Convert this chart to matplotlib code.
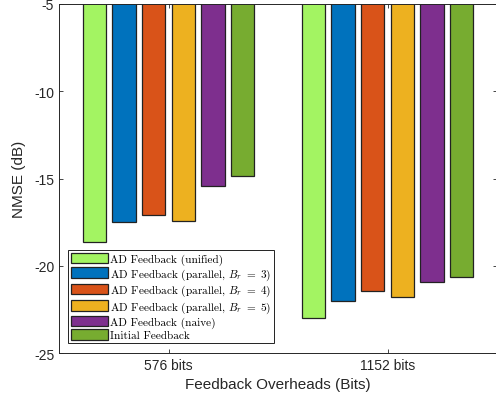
import numpy as np
import matplotlib
matplotlib.use("Agg")
import matplotlib.pyplot as plt

plt.rcParams["font.family"] = ["Liberation Sans", "DejaVu Sans"]
plt.rcParams["mathtext.fontset"] = "cm"

groups = ["576 bits", "1152 bits"]
series = [
    "AD Feedback (unified)",
    r"AD Feedback (parallel, $B_r\ =\ 3$)",
    r"AD Feedback (parallel, $B_r\ =\ 4$)",
    r"AD Feedback (parallel, $B_r\ =\ 5$)",
    "AD Feedback (naive)",
    "Initial Feedback",
]
unified = [-18.65, -23.0]
parallel_3 = [-17.5, -22.0]
parallel_4 = [-17.1, -21.45]
parallel_5 = [-17.45, -21.8]
naive = [-15.45, -20.95]
initial = [-14.85, -20.65]
colors = ["#A3F462", "#0072BD", "#D95319", "#EDB120", "#7E2F8E", "#77AC30"]

values = [unified, parallel_3, parallel_4, parallel_5, naive, initial]

fig = plt.figure(figsize=(4.96, 4.02), dpi=100)
ax = fig.add_axes([59 / 496, 48 / 402, 438 / 496, 349 / 402])

x = np.arange(1, len(groups) + 1)
step = 0.135
width = 0.107
for i, (label, vals, c) in enumerate(zip(series, values, colors)):
    ax.bar(x + (i - 2.5) * step, vals, width, color=c, edgecolor="#222222",
           linewidth=0.9, label=label, zorder=2)

ax.set_xlim(0.5, 2.5)
ax.set_ylim(-25, -5)
ax.set_yticks([-25, -20, -15, -10, -5])
ax.set_yticklabels(["-25", "-20", "-15", "-10", "-5"])
ax.set_xticks(x)
ax.set_xticklabels(groups)
for t in ax.get_xticklabels() + ax.get_yticklabels():
    t.set_fontfamily(["Liberation Sans", "DejaVu Sans"])
ax.tick_params(direction="in", top=True, right=True, labelsize=10,
               color="#262626", length=3, width=0.6, labelcolor="#262626")
for s in ax.spines.values():
    s.set_color("#262626")
    s.set_linewidth(0.7)
    s.set_zorder(3)
ax.set_xlabel("Feedback Overheads (Bits)", fontsize=11, color="#262626")
ax.set_ylabel("NMSE (dB)", fontsize=11, color="#262626", labelpad=6)

leg = ax.legend(loc="lower left", bbox_to_anchor=(9 / 438, 10 / 349),
                prop={"family": "cmr10", "size": 8.1}, fancybox=False,
                edgecolor="#222222", framealpha=1, borderpad=0.25,
                labelspacing=0.1, handlelength=3.3, handleheight=1.05,
                handletextpad=0.15, borderaxespad=0)
leg.get_frame().set_linewidth(0.7)

fig.savefig("out.png", dpi=100)
